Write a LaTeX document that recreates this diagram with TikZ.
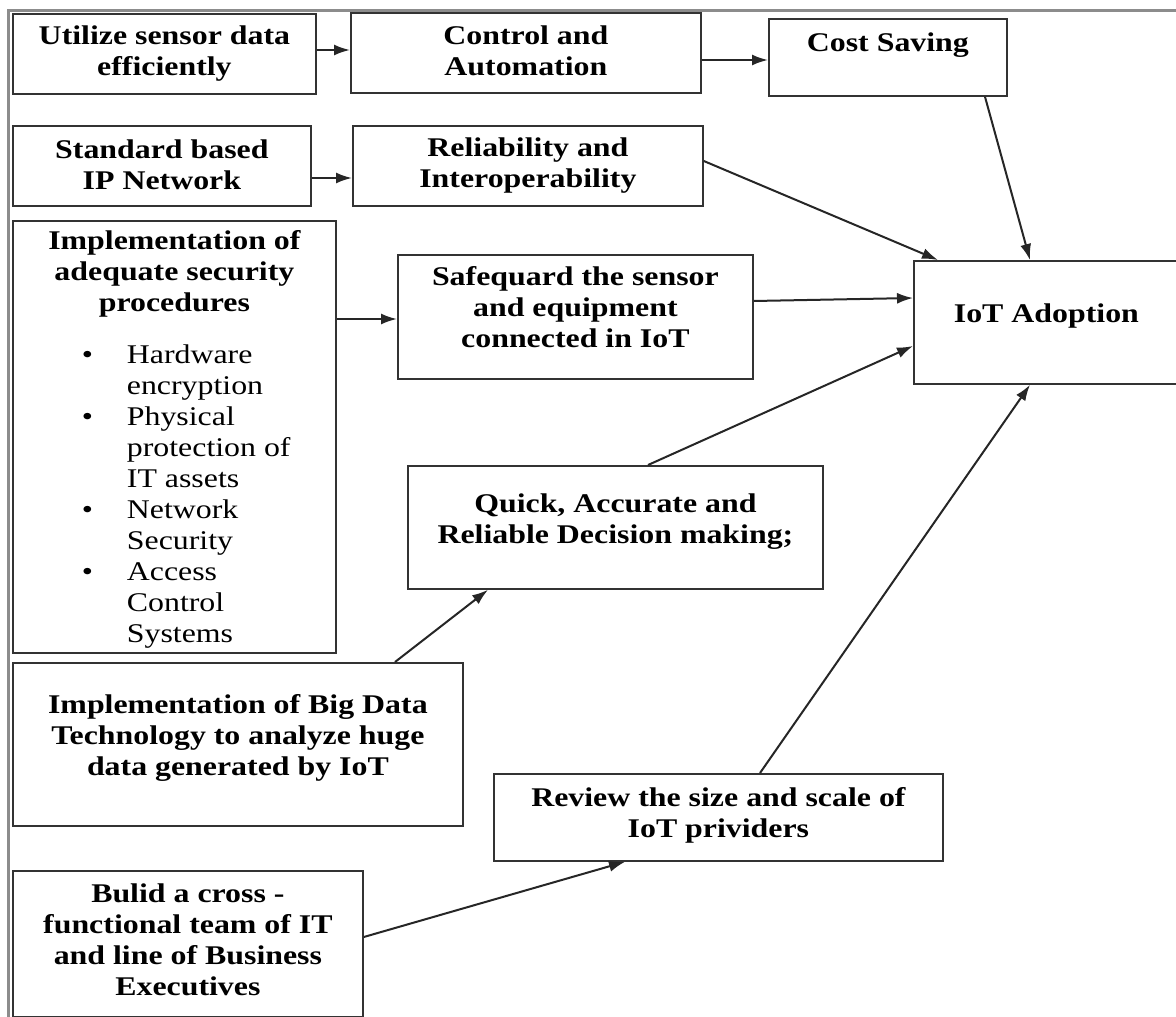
\documentclass[tikz,border=0pt]{standalone}
\usepackage{fontspec}
\setmainfont{Liberation Serif}[FakeStretch=1.18]
\usetikzlibrary{arrows.meta, calc}

\tikzset{
  block/.style={draw=black!80, line width=1.8pt, anchor=north west, inner sep=0pt,
    align=center, font=\fontsize{27}{31}\selectfont\bfseries},
  link/.style={line width=2pt, draw=black!85, -{Latex[length=16pt,width=11pt]}},
}

\begin{document}
\begin{tikzpicture}[x=1pt,y=-1pt]
  \useasboundingbox (0,0) rectangle (1176,1017);

  %outer frame
  \draw[black!45, line width=3pt] (8,1030) -- (8,10) -- (1190,10);

  %top rows
  \node[block, minimum width=303pt, minimum height=80pt] (util) at (12,13) {Utilize sensor data\\efficiently};
  \node[block, minimum width=350pt, minimum height=80pt, text depth=4pt] (ctrl) at (350,12) {Control and\\Automation};
  \node[block, minimum width=238pt, minimum height=77pt, text depth=0pt] (cost) at (768,18) {Cost Saving\\\mbox{}};
  \node[block, minimum width=298pt, minimum height=80pt, text depth=3pt] (std) at (12,125) {Standard based\\IP Network};
  \node[block, minimum width=350pt, minimum height=80pt] (rel) at (352,125) {Reliability and\\Interoperability};

  %security procedures with list
  \node[block, minimum width=323pt, minimum height=432pt] (secproc) at (12,220) {%
    \parbox{323pt}{\vspace*{8pt}
    \centering Implementation of\\adequate security\\procedures\par
    \vspace{24pt}
    \raggedright\mdseries\hspace*{69pt}\begin{tabular}{@{}p{45pt}@{}l@{}}
      \textbullet & Hardware\\
                  & encryption\\
      \textbullet & Physical\\
                  & protection of\\
                  & IT assets\\
      \textbullet & Network\\
                  & Security\\
      \textbullet & Access\\
                  & Control\\
                  & Systems
    \end{tabular}}};

  \node[block, minimum width=355pt, minimum height=124pt, text depth=20pt] (safe) at (397,254) {Safequard the sensor\\and equipment\\connected in IoT};
  \node[block, minimum width=265pt, minimum height=123pt, text depth=18pt] (iot) at (913,260) {IoT Adoption};
  \node[block, minimum width=415pt, minimum height=123pt, text depth=18pt] (quick) at (407,465) {Quick, Accurate and\\Reliable Decision making;};

  %bottom part
  \node[block, minimum width=450pt, minimum height=163pt, text depth=18pt] (bigdata) at (12,662) {Implementation of Big Data\\Technology to analyze huge\\data generated by IoT};
  \node[block, minimum width=449pt, minimum height=87pt, text depth=10pt] (review) at (493,773) {Review the size and scale of\\IoT prividers};
  \node[block, minimum width=350pt, minimum height=146pt, text depth=8pt] (team) at (12,870) {Bulid a cross -\\functional team of IT\\and line of Business\\Executives};

  %connectors
  \draw[link] ($(util.north east)+(0,37)$) -- ($(ctrl.north west)+(0,38)$);
  \draw[link] ($(ctrl.north east)+(0,48)$) -- ($(cost.north west)+(0,42)$);
  \draw[link] ($(std.north east)+(0,53)$) -- ($(rel.north west)+(0,53)$);
  \draw[link] ($(secproc.north east)+(0,99)$) -- ($(safe.north west)+(0,65)$);
  \draw[link] ($(cost.south west)+(217,0)$) -- ($(iot.north west)+(117,0)$);
  \draw[link] ($(rel.north east)+(0,36)$) -- ($(iot.north west)+(25,0)$);
  \draw[link] ($(safe.north east)+(0,47)$) -- ($(iot.north west)+(0,38)$);
  \draw[link] ($(quick.north west)+(241,0)$) -- ($(iot.north west)+(0,86)$);
  \draw[link] ($(bigdata.north west)+(383,0)$) -- ($(quick.south west)+(81,0)$);
  \draw[link] ($(review.north west)+(267,0)$) -- ($(iot.south west)+(117,0)$);
  \draw[link] ($(team.north east)+(0,67)$) -- ($(review.south west)+(132,0)$);
\end{tikzpicture}
\end{document}
